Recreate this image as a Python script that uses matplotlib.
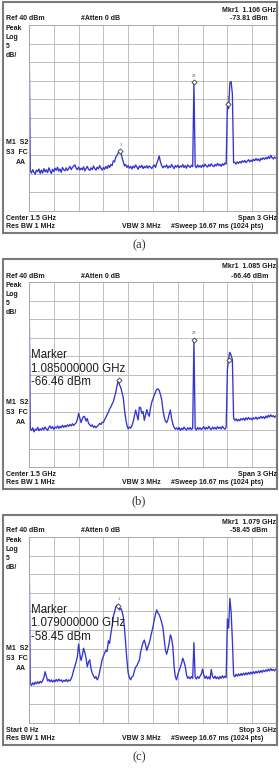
import numpy as np
import matplotlib.pyplot as plt
from matplotlib.patches import Rectangle

W, H = 279, 769

# sweep points, 15 MHz apart, 0 .. 3 GHz
freq = np.linspace(0, 3, 201)

# trace levels in dBm (first point is the LO feedthrough, off screen)
level_a = [
    -38.0, -79.1, -79.8, -78.9, -79.6, -80.1, -79.0, -79.4, -78.7, -79.9,
    -79.0, -79.8, -78.6, -79.5, -78.9, -79.7, -78.4, -79.2, -79.9, -78.8,
    -79.4, -78.5, -79.1, -78.2, -79.3, -78.7, -79.6, -78.3, -78.9, -79.2,
    -78.4, -79.1, -78.6, -78.0, -78.9, -78.3, -77.9, -77.6, -78.5, -78.9,
    -78.2, -79.0, -78.5, -78.9, -78.1, -79.2, -78.6, -78.0, -78.8, -79.1,
    -78.4, -78.9, -77.9, -78.6, -79.0, -78.2, -78.7, -77.8, -78.5, -79.0,
    -78.3, -78.8, -78.0, -78.6, -77.7, -78.3, -77.5, -77.8, -76.5, -76.8,
    -75.5, -75.0, -74.4, -73.9, -74.0, -75.6, -76.8, -77.9, -77.5, -78.3,
    -77.8, -78.5, -78.0, -78.7, -77.9, -78.4, -77.6, -78.2, -78.8, -77.9,
    -78.3, -77.7, -78.6, -78.0, -78.4, -77.8, -78.5, -77.9, -78.2, -78.6,
    -78.0, -77.6, -78.3, -77.2, -76.3, -75.2, -76.8, -77.8, -78.4, -77.9,
    -78.2, -77.6, -78.5, -77.9, -78.3, -77.5, -78.1, -78.6, -77.8, -78.2,
    -77.7, -78.4, -77.9, -78.2, -77.5, -78.3, -77.8, -78.5, -77.6, -78.0,
    -78.3, -77.7, -78.1, -55.3, -77.9, -78.4, -77.6, -78.2, -77.8, -78.3,
    -77.6, -78.1, -77.4, -77.9, -78.2, -77.5, -78.0, -77.3, -77.8, -78.1,
    -77.5, -77.9, -77.2, -77.8, -77.4, -78.0, -77.3, -77.7, -77.1, -77.4,
    -61.0, -62.5, -55.5, -55.2, -58.5, -77.0, -76.9, -77.4, -76.8, -77.2,
    -76.7, -77.1, -76.5, -76.9, -76.4, -77.0, -76.6, -76.2, -76.8, -76.3,
    -76.7, -76.1, -76.5, -75.9, -76.4, -76.0, -76.6, -75.8, -76.2, -75.7,
    -76.1, -75.6, -76.0, -75.4, -75.9, -75.0, -75.7, -76.0, -75.5, -75.8,
    -75.6,
]

level_b = [
    -38.0, -79.6, -80.1, -79.4, -80.5, -79.8, -80.0, -79.3, -80.2, -79.7,
    -80.0, -79.4, -79.9, -79.2, -79.7, -80.1, -79.3, -78.9, -79.6, -79.1,
    -79.8, -79.2, -79.5, -78.9, -79.6, -79.0, -79.4, -78.7, -79.3, -78.8,
    -79.2, -78.6, -79.0, -78.5, -78.9, -78.3, -78.8, -78.4, -78.0, -77.2,
    -75.5, -76.8, -78.0, -77.0, -76.3, -76.5, -77.6, -76.9, -78.2, -78.6,
    -79.0, -78.6, -79.3, -78.9, -79.4, -79.0, -78.7, -78.2, -78.5, -77.9,
    -78.0, -77.2, -76.6, -75.8, -75.2, -74.3, -73.8, -73.0, -72.4, -71.0,
    -69.8, -68.0, -66.7, -67.8, -68.5, -69.9, -71.2, -74.5, -77.0, -78.8,
    -79.7, -79.2, -79.5, -78.9, -77.8, -76.2, -74.6, -76.0, -77.3, -73.8,
    -74.0, -75.5, -75.0, -77.4, -76.0, -74.5, -75.6, -76.3, -74.0, -72.5,
    -71.5, -70.6, -69.8, -69.0, -68.9, -69.3, -70.4, -71.8, -74.5, -76.4,
    -77.6, -78.0, -77.2, -75.8, -74.6, -76.9, -78.4, -79.3, -79.8, -79.4,
    -79.9, -79.3, -80.1, -79.5, -79.9, -79.2, -79.7, -80.0, -79.4, -79.8,
    -79.3, -79.9, -79.5, -55.6, -79.6, -80.0, -79.3, -79.8, -79.4, -79.9,
    -79.5, -79.1, -79.8, -79.3, -79.7, -79.0, -79.6, -79.9, -79.2, -79.7,
    -79.3, -79.8, -79.1, -79.6, -79.2, -79.7, -79.0, -79.5, -79.8, -79.3,
    -63.7, -60.5, -59.0, -59.8, -61.0, -76.8, -77.4, -77.0, -77.6, -77.1,
    -77.5, -76.9, -77.3, -76.8, -77.4, -76.7, -77.2, -76.6, -77.1, -76.8,
    -77.3, -76.7, -77.0, -76.5, -77.1, -76.6, -76.9, -76.3, -76.8, -76.4,
    -76.9, -76.2, -76.7, -76.0, -76.5, -75.9, -76.4, -76.1, -76.6, -76.2,
    -76.4,
]

level_c = [
    -38.0, -79.4, -79.9, -79.2, -79.7, -79.0, -79.5, -78.9, -79.4, -78.8,
    -79.2, -78.6, -77.8, -76.2, -77.5, -78.7, -78.3, -78.9, -78.4, -79.0,
    -78.5, -78.9, -78.3, -78.8, -78.2, -78.7, -78.4, -79.0, -78.5, -78.8,
    -78.3, -78.9, -78.4, -78.7, -78.1, -77.2, -75.8, -74.8, -73.6, -72.2,
    -68.8, -71.5, -73.2, -71.8, -69.9, -71.0, -72.6, -74.9, -73.6, -73.0,
    -75.4, -76.6, -77.3, -78.0, -77.5, -78.4, -77.8, -76.2, -74.5, -73.0,
    -72.0, -71.2, -70.4, -70.8, -67.9, -68.6, -66.0, -64.0, -61.4, -60.2,
    -58.8, -58.3, -58.45, -59.6, -59.2, -59.9, -61.4, -64.5, -68.8, -73.2,
    -76.6, -77.8, -78.4, -77.6, -77.4, -76.0, -75.0, -74.6, -73.8, -73.2,
    -71.0, -69.5, -68.4, -67.7, -69.0, -70.5, -69.4, -68.5, -67.0, -65.5,
    -64.1, -62.3, -60.8, -59.6, -60.4, -60.9, -61.8, -63.0, -64.4, -67.5,
    -70.4, -71.5, -70.2, -68.6, -66.3, -67.2, -69.5, -74.8, -77.5, -78.4,
    -77.0, -76.0, -75.0, -74.0, -72.6, -73.5, -74.8, -77.0, -78.0, -77.6,
    -78.1, -77.5, -78.0, -68.4, -77.6, -78.2, -77.5, -78.0, -77.4, -76.8,
    -75.5, -77.2, -78.0, -77.4, -78.1, -77.6, -78.2, -75.6, -77.5, -78.0,
    -77.4, -78.1, -77.6, -78.2, -77.5, -78.0, -77.3, -77.9, -77.4, -77.8,
    -62.0, -64.5, -56.5, -60.1, -67.7, -77.1, -77.6, -76.9, -77.4, -76.8,
    -77.3, -76.7, -77.2, -76.6, -77.1, -76.5, -77.0, -76.4, -76.9, -76.3,
    -76.8, -76.2, -76.7, -76.1, -76.6, -76.0, -76.5, -75.9, -76.4, -75.8,
    -76.2, -75.7, -76.1, -75.5, -76.0, -75.4, -75.9, -75.6, -76.0, -75.5,
    -75.8,
]

# marker diamonds: (freq GHz, level dBm, tag)
markers_a = [(1.106, -73.81, '1'), (1.995, -55.3, '2R'), (2.403, -61.3, '3')]
markers_b = [(1.085, -66.46, ''), (1.995, -55.6, '2R'), (2.42, -61.2, '3')]
markers_c = [(1.079, -58.45, '1')]

mkr_freq = ['1.106', '1.085', '1.079']
mkr_level = ['-73.81', '-66.46', '-58.45']
start_lbl = ['Center 1.5 GHz', 'Center 1.5 GHz', 'Start 0 Hz']
stop_lbl = ['Span 3 GHz', 'Span 3 GHz', 'Stop 3 GHz']
captions = ['(a)', '(b)', '(c)']
show_box = [False, True, True]

# pixel layout of each screenshot: grid top, grid bottom, frame top, y of "M1 S2"
layout = [(25, 211, 2, 143), (282, 467, 259, 403), (537, 723, 515, 649)]

blue = '#3434d2'
scr = dict(family='Liberation Sans', weight='bold', fontsize=5, color='#1c1c1c', va='center')


def fx(px):
    return px / W


def fy(py):
    return 1 - py / H


fig = plt.figure(figsize=(W / 100, H / 100), dpi=100)

traces = [level_a, level_b, level_c]
marks = [markers_a, markers_b, markers_c]

for k in range(3):
    gt, gb, ft, m1 = layout[k]

    # screenshot frame
    fig.add_artist(Rectangle((fx(2.5), fy(gb + 22)), (276.5 - 2.5) / W, (gb + 22 - ft) / H,
                             transform=fig.transFigure, fill=False, ec='#7a7a7a', lw=1.5))

    ax = fig.add_axes([fx(29), fy(gb), (277 - 29) / W, (gb - gt) / H])
    ax.plot(freq, traces[k], color=blue, lw=0.95)
    ax.set_xlim(0, 3)
    ax.set_ylim(-90, -40)
    ax.set_xticks(np.arange(0, 3.01, 0.3))
    ax.set_yticks(np.arange(-90, -39, 5))
    ax.grid(True, color='#bfbfbf', lw=0.7)
    ax.tick_params(length=0, labelbottom=False, labelleft=False)
    for s in ax.spines.values():
        s.set_color('#aaaaaa')
        s.set_linewidth(0.7)

    for f, lv, tag in marks[k]:
        ax.plot(f, lv, 'D', ms=2.6, mfc='white', mec='#3a3a3a', mew=0.6, zorder=5)
        if tag:
            ax.annotate(tag, (f, lv), xytext=(0, 4.5), textcoords='offset points',
                        fontsize=2.4, ha='center', va='center', color='#555555')

    # screen annotations
    fig.text(fx(276.5), fy(gt - 15), 'Mkr1  ' + mkr_freq[k] + ' GHz', ha='right', **scr)
    fig.text(fx(6), fy(gt - 6), 'Ref 40 dBm', ha='left', **scr)
    fig.text(fx(81), fy(gt - 6), '#Atten 0 dB', ha='left', **scr)
    fig.text(fx(268), fy(gt - 6), mkr_level[k] + ' dBm', ha='right', **scr)
    for j, t in enumerate(['Peak', 'Log', '5', 'dB/']):
        fig.text(fx(5.5), fy(gt + 3.5 + 9 * j), t, ha='left', **scr)
    fig.text(fx(6), fy(m1), 'M1  S2', ha='left', **scr)
    fig.text(fx(6), fy(m1 + 10), 'S3  FC', ha='left', **scr)
    fig.text(fx(26), fy(m1 + 19), 'AA', ha='right', **scr)
    fig.text(fx(6), fy(gb + 7), start_lbl[k], ha='left', **scr)
    fig.text(fx(276.5), fy(gb + 7), stop_lbl[k], ha='right', **scr)
    fig.text(fx(6), fy(gb + 16), 'Res BW 1 MHz', ha='left', **scr)
    fig.text(fx(122), fy(gb + 16), 'VBW 3 MHz', ha='left', **scr)
    fig.text(fx(171), fy(gb + 16), '#Sweep 16.67 ms (1024 pts)', ha='left', **scr)

    if show_box[k]:
        for j, t in enumerate(['Marker', mkr_freq[k] + '000000 GHz', mkr_level[k] + ' dBm']):
            fig.text(fx(31), fy(gt + 73 + 13.5 * j), t, family='Liberation Sans',
                     fontsize=8.3, color='#1e1e1e', ha='left', va='center')

    fig.text(fx(139), fy(gb + 34), captions[k], family='Liberation Serif', fontsize=9,
             color='#333333', ha='center', va='center')

fig.savefig('out.png', dpi=100)
